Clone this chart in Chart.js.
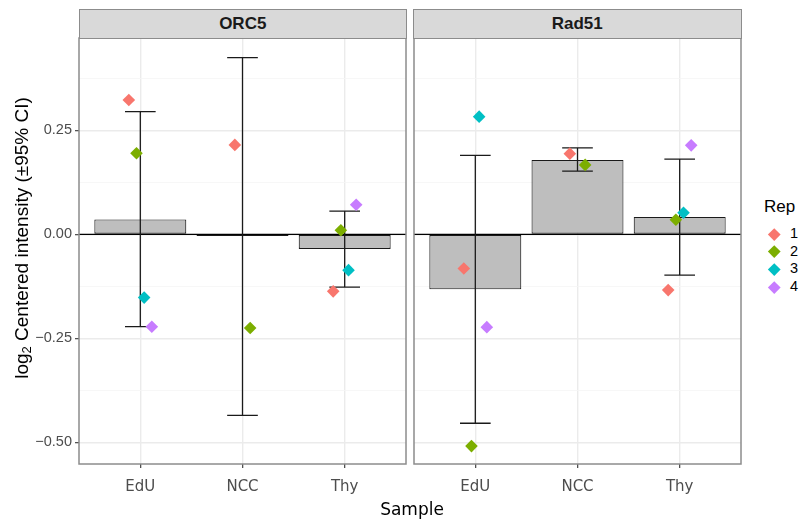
<!DOCTYPE html>
<html>
<head>
<meta charset="utf-8">
<script src="https://cdn.jsdelivr.net/npm/chart.js@4.4.1/dist/chart.umd.min.js"></script>
<style>
  body { margin: 0; background: #fff; }
  #wrap { position: relative; width: 803px; height: 519px; overflow: hidden; font-family: "Liberation Sans", Arial, sans-serif; }
  canvas { position: absolute; top: 0; }
  .strip { position: absolute; top: 9px; height: 30px; box-sizing: border-box; background: #D9D9D9; border: 1.5px solid #8C8C8C;
           text-align: center; font-weight: bold; font-size: 17px; line-height: 27px; color: #1A1A1A; }
  #ytitle { position: absolute; left: 22px; top: 238px; width: 400px; margin-left: -200px; margin-top: -11px; height: 22px;
            transform: rotate(-90deg); text-align: center; font-size: 19px; line-height: 22px; color: #000; white-space: nowrap; }
  #ytitle sub { font-size: 13px; vertical-align: -3px; line-height: 0; }
  #xtitle { position: absolute; left: 412px; top: 499px; transform: translateX(-50%); font-family: "DejaVu Sans", sans-serif; font-size: 17px; color: #000; }
  #legend { position: absolute; left: 764px; top: 196px; color: #000; }
  #legend .ttl { font-size: 17px; line-height: 22px; margin-bottom: 7px; }
  #legend .item { position: relative; height: 17.7px; font-size: 14.5px; line-height: 17.7px; }
  #legend .dia { position: absolute; left: 6px; top: 4.8px; width: 8.5px; height: 8.5px; transform: rotate(45deg); }
  #legend .lab { position: absolute; left: 26px; top: 0; }
</style>
</head>
<body>
<div id="wrap">
  <canvas id="orc5" width="410" height="519" style="left:0"></canvas>
  <canvas id="rad51" width="335" height="519" style="left:410px"></canvas>
  <div class="strip" style="left:78.5px; width:328.5px">ORC5</div>
  <div class="strip" style="left:413px; width:328.5px">Rad51</div>
  <div id="ytitle">log<sub>2</sub> Centered intensity (±95% CI)</div>
  <div id="xtitle">Sample</div>
  <div id="legend"><div class="ttl">Rep</div></div>
</div>
<script>
const samples = ['EdU', 'NCC', 'Thy'];
const reps = ['1', '2', '3', '4'];
const repColors = ['#F8766D', '#7CAE00', '#00BFC4', '#C77CFF'];

// ORC5: per-sample mean with 95% CI, then replicate values (null = no measurement)
const orc5Mean = [0.036, -0.004, -0.035];
const orc5Lo = [-0.222, -0.435, -0.127];
const orc5Hi = [0.295, 0.425, 0.056];
const orc5Rep1 = [0.323, 0.215, -0.137];
const orc5Rep2 = [0.195, -0.225, 0.010];
const orc5Rep3 = [-0.152, null, -0.086];
const orc5Rep4 = [-0.222, null, 0.071];

// Rad51
const rad51Mean = [-0.132, 0.179, 0.042];
const rad51Lo = [-0.454, 0.152, -0.098];
const rad51Hi = [0.190, 0.208, 0.181];
const rad51Rep1 = [-0.082, 0.194, -0.134];
const rad51Rep2 = [-0.509, 0.167, 0.035];
const rad51Rep3 = [0.283, null, 0.052];
const rad51Rep4 = [-0.223, null, 0.214];

const yMajor = [-0.5, -0.25, 0, 0.25];
const yMajorLabels = ['\u22120.50', '\u22120.25', '0.00', '0.25'];
const yMinor = [-0.375, -0.125, 0.125, 0.375];
const yMin = -0.552, yMax = 0.472;

const dodgeWidth = 0.3;
const capHalf = 0.15;

const isMajor = v => yMajor.some(m => Math.abs(m - v) < 1e-9);

function repDatasets(repRows) {
  return repRows.map((row, r) => {
    const pts = [];
    row.forEach((val, i) => {
      if (val == null) return;
      const present = repRows.map((rr, k) => rr[i] != null ? k : -1).filter(k => k >= 0);
      const n = present.length;
      const k = present.indexOf(r);
      pts.push({ x: i + 1 + (k - (n - 1) / 2) * dodgeWidth / n, y: val });
    });
    return {
      type: 'scatter', label: reps[r], data: pts, order: 0,
      pointStyle: 'rectRot', pointRadius: 6.3, pointHoverRadius: 6.3,
      backgroundColor: repColors[r], borderWidth: 0
    };
  });
}

function makePanel(id, mean, lo, hi, repRows, showY) {
  const decor = {
    id: 'decor_' + id,
    afterDatasetDraw(chart, args) {
      if (args.meta.type !== 'bar') return;
      const { ctx, chartArea: a, scales: { x, y } } = chart;
      ctx.save();
      ctx.strokeStyle = '#000';
      ctx.lineWidth = 1.1;
      const y0 = y.getPixelForValue(0);
      ctx.beginPath();
      ctx.moveTo(a.left, y0);
      ctx.lineTo(a.right, y0);
      ctx.stroke();
      ctx.lineWidth = 1.3;
      ctx.strokeStyle = '#1A1A1A';
      lo.forEach((l, i) => {
        const xc = x.getPixelForValue(i + 1);
        const w = x.getPixelForValue(i + 1 + capHalf) - xc;
        const yl = y.getPixelForValue(l), yh = y.getPixelForValue(hi[i]);
        ctx.beginPath();
        ctx.moveTo(xc, yl); ctx.lineTo(xc, yh);
        ctx.moveTo(xc - w, yl); ctx.lineTo(xc + w, yl);
        ctx.moveTo(xc - w, yh); ctx.lineTo(xc + w, yh);
        ctx.stroke();
      });
      ctx.restore();
    },
    afterDraw(chart) {
      const { ctx, chartArea: a } = chart;
      ctx.save();
      ctx.strokeStyle = '#8C8C8C';
      ctx.lineWidth = 1.5;
      ctx.strokeRect(a.left, a.top, a.right - a.left, a.bottom - a.top);
      ctx.restore();
    }
  };

  return new Chart(document.getElementById(id), {
    type: 'bar',
    data: {
      datasets: [
        {
          type: 'bar', label: 'mean', order: 1,
          data: mean.map((m, i) => ({ x: i + 1, y: m })),
          backgroundColor: '#BEBEBE', borderColor: '#1A1A1A', borderWidth: 1.1,
          borderSkipped: false, barPercentage: 0.9, categoryPercentage: 1
        },
        ...repDatasets(repRows)
      ]
    },
    options: {
      responsive: false,
      animation: false,
      events: [],
      layout: { autoPadding: false, padding: { top: 38, right: 4, bottom: 0, left: showY ? 0 : 4 } },
      plugins: { legend: { display: false }, tooltip: { enabled: false } },
      scales: {
        x: {
          type: 'linear', min: 0.4, max: 3.6, offset: false,
          afterBuildTicks: s => { s.ticks = samples.map((_, i) => ({ value: i + 1 })); },
          afterFit: s => { s.height = 55; },
          ticks: {
            autoSkip: false, maxRotation: 0, padding: 10,
            callback: v => samples[Math.round(v) - 1],
            color: '#4D4D4D', font: { family: '"DejaVu Sans", sans-serif', size: 15 }
          },
          grid: { offset: false, color: '#EBEBEB', lineWidth: 1.4, tickLength: 4, tickColor: '#333', tickWidth: 1.1 },
          border: { display: false }
        },
        y: {
          type: 'linear', min: yMin, max: yMax,
          afterBuildTicks: s => { s.ticks = yMajor.concat(yMinor).sort((p, q) => p - q).map(v => ({ value: v })); },
          afterFit: s => { s.width = showY ? 79 : 0; },
          ticks: {
            display: showY, autoSkip: false, padding: 3,
            callback: v => { const k = yMajor.findIndex(m => Math.abs(m - v) < 1e-9); return k >= 0 ? yMajorLabels[k] : ''; },
            color: '#4D4D4D', font: { family: '"Liberation Sans", Arial, sans-serif', size: 14.5 }
          },
          grid: {
            drawTicks: showY, tickLength: 4, tickWidth: 1.1,
            color: c => isMajor(c.tick.value) ? '#EBEBEB' : '#F5F5F5',
            lineWidth: c => isMajor(c.tick.value) ? 1.4 : 0.8,
            tickColor: c => isMajor(c.tick.value) ? '#333' : 'rgba(0,0,0,0)'
          },
          border: { display: false }
        }
      }
    },
    plugins: [decor]
  });
}

makePanel('orc5', orc5Mean, orc5Lo, orc5Hi, [orc5Rep1, orc5Rep2, orc5Rep3, orc5Rep4], true);
makePanel('rad51', rad51Mean, rad51Lo, rad51Hi, [rad51Rep1, rad51Rep2, rad51Rep3, rad51Rep4], false);

// legend keys for the replicate colours
const legend = document.getElementById('legend');
reps.forEach((r, i) => {
  const item = document.createElement('div');
  item.className = 'item';
  item.innerHTML = '<span class="dia" style="background:' + repColors[i] + '"></span><span class="lab">' + r + '</span>';
  legend.appendChild(item);
});
</script>
</body>
</html>
